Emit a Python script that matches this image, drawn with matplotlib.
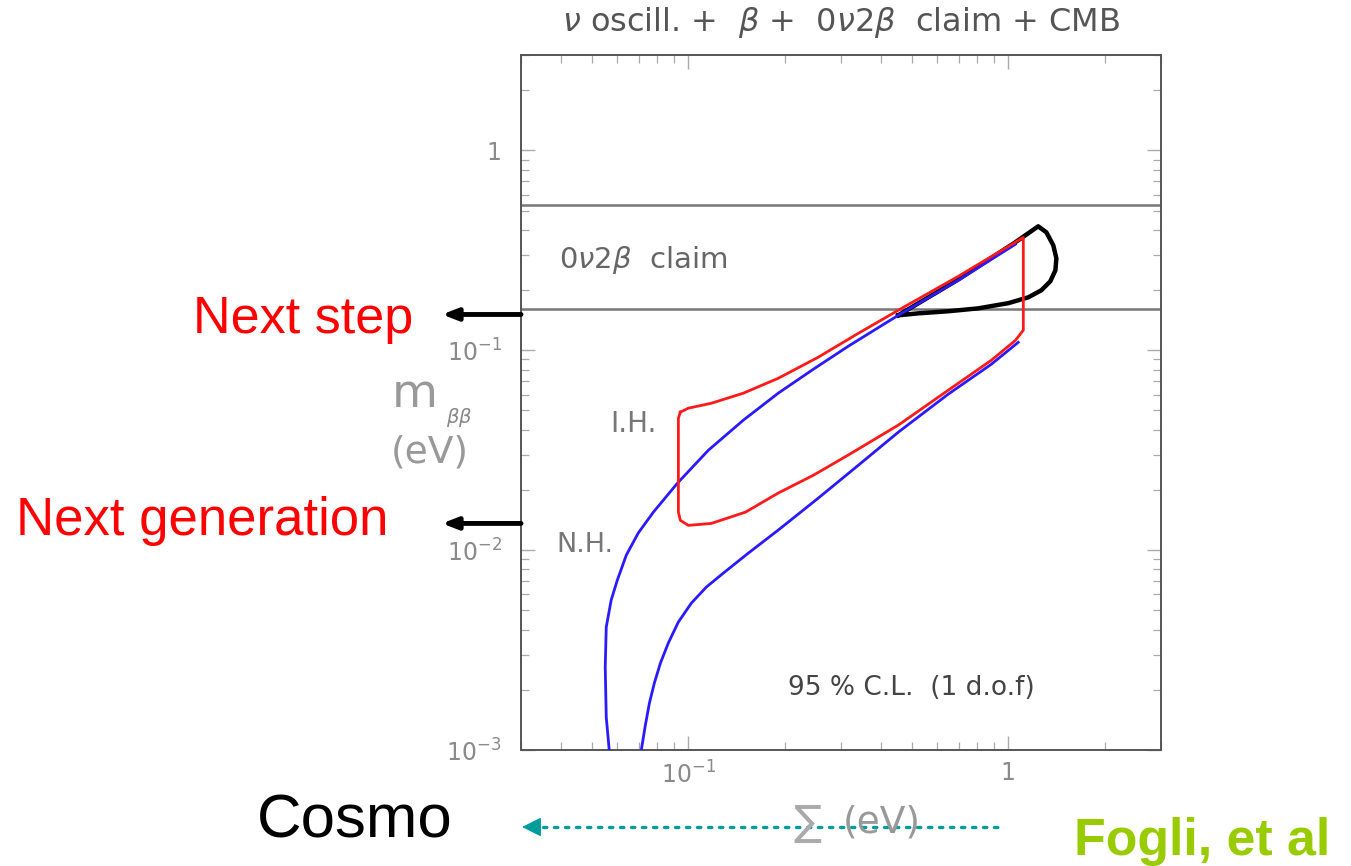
import matplotlib
matplotlib.use("Agg")
import matplotlib.pyplot as plt
from matplotlib.lines import Line2D
from matplotlib.patches import FancyArrowPatch
from matplotlib.ticker import FixedLocator, FixedFormatter, LogLocator, NullFormatter

# ---------------- data (Sigma in eV, m_bb in eV) ----------------
nh_upper_sigma = [0.0566, 0.0554, 0.0550, 0.0554, 0.0574, 0.0600, 0.0640, 0.0698, 0.0778,
                  0.0924, 0.1155, 0.1486, 0.191, 0.246, 0.316, 0.453, 0.698, 1.052]
nh_upper_m = [0.001, 0.00146, 0.0026, 0.00412, 0.00562, 0.00708, 0.00944, 0.0122, 0.0155,
              0.0216, 0.0316, 0.0447, 0.0610, 0.0804, 0.1047, 0.1496, 0.224, 0.339]

nh_lower_sigma = [0.0713, 0.0734, 0.0756, 0.0783, 0.0818, 0.0866, 0.0931, 0.1022, 0.1138,
                  0.1286, 0.154, 0.191, 0.2547, 0.340, 0.453, 0.649, 0.885, 1.074]
nh_lower_m = [0.001, 0.00133, 0.00172, 0.00216, 0.00272, 0.00343, 0.00437, 0.00543, 0.00653,
              0.00767, 0.00966, 0.0126, 0.0182, 0.0266, 0.0389, 0.0603, 0.0851, 0.1096]

ih_sigma = [0.0944, 0.100, 0.118, 0.1486, 0.191, 0.2547, 0.340, 0.453, 0.698, 1.114,
            1.114, 1.052, 0.885, 0.649, 0.453, 0.316, 0.246, 0.191, 0.151, 0.118, 0.100,
            0.0944, 0.0931, 0.0931, 0.0944]
ih_m = [0.0490, 0.0513, 0.0543, 0.0610, 0.0724, 0.0923, 0.1216, 0.1585, 0.2344, 0.367,
        0.126, 0.112, 0.0891, 0.0631, 0.0422, 0.0299, 0.0237, 0.0193, 0.0155, 0.0136, 0.0133,
        0.0141, 0.0155, 0.0457, 0.0490]

cmb_sigma = [0.453, 0.698, 1.052, 1.155, 1.24, 1.315, 1.382, 1.413, 1.403, 1.352, 1.268,
             1.155, 1.0, 0.805, 0.649, 0.524, 0.453]
cmb_m = [0.1496, 0.226, 0.347, 0.385, 0.417, 0.389, 0.335, 0.288, 0.251, 0.221, 0.1995,
         0.184, 0.172, 0.162, 0.1567, 0.153, 0.1496]

claim_band = [0.160, 0.531]

xticks = [0.1, 1.0]
xticklabels = [r"$10^{-1}$", "1"]
yticks = [1e-3, 1e-2, 1e-1, 1.0]
yticklabels = [r"$10^{-3}$", r"$10^{-2}$", r"$10^{-1}$", "1"]

arrow_levels = [0.151, 0.0136]   # m_bb levels of the "Next step" / "Next generation" arrows

# ---------------- figure ----------------
W, H = 1351, 866
fig = plt.figure(figsize=(W / 100, H / 100), dpi=100)
fig.patch.set_facecolor("white")

def fx(px):
    return px / W

def fy(py):
    return 1 - py / H

ax = fig.add_axes([fx(521), fy(750), fx(1161) - fx(521), fy(55) - fy(750)])
ax.set_xscale("log")
ax.set_yscale("log")
ax.set_xlim(0.03, 3.0)
ax.set_ylim(1e-3, 3.0)

grey_txt = "#8a8a8a"
for sp in ax.spines.values():
    sp.set_color("#555555")
    sp.set_linewidth(1.4)

ax.xaxis.set_major_locator(FixedLocator(xticks))
ax.xaxis.set_major_formatter(FixedFormatter(xticklabels))
ax.yaxis.set_major_locator(FixedLocator(yticks))
ax.yaxis.set_major_formatter(FixedFormatter(yticklabels))
ax.xaxis.set_minor_locator(LogLocator(base=10, subs=range(2, 10), numticks=20))
ax.yaxis.set_minor_locator(LogLocator(base=10, subs=range(2, 10), numticks=20))
ax.xaxis.set_minor_formatter(NullFormatter())
ax.yaxis.set_minor_formatter(NullFormatter())
ax.tick_params(which="both", direction="in", top=True, right=True, color="#aaaaaa")
ax.tick_params(which="major", length=10, width=1.0, labelsize=17, labelcolor=grey_txt)
ax.tick_params(which="minor", length=6, width=0.9)
ax.tick_params(axis="y", which="major", pad=14)
ax.tick_params(axis="x", which="major", pad=8)

# claim band lines
for yv in claim_band:
    ax.axhline(yv, color="#777777", lw=1.8, zorder=2)

# contours
ax.plot(nh_upper_sigma, nh_upper_m, color="#2a1aff", lw=2.0, zorder=3)
ax.plot(nh_lower_sigma, nh_lower_m, color="#2a1aff", lw=2.0, zorder=3)
ax.plot(ih_sigma, ih_m, color="#ff1a1a", lw=2.0, zorder=4)
ax.plot(cmb_sigma, cmb_m, color="black", lw=3.2, zorder=2.5, solid_joinstyle="round")

# in-plot labels
ax.text(0.0393, 0.282, r"0$\nu$2$\beta$  claim", fontsize=21, color="#666666", va="center")
ax.text(0.057, 0.0427, "I.H.", fontsize=20, color="#777777", va="center")
ax.text(0.0387, 0.0106, "N.H.", fontsize=19.5, color="#777777", va="center")
ax.text(0.2054, 0.00204, "95 % C.L.  (1 d.o.f)", fontsize=19, color="#444444", va="center")

# title
fig.text(fx(841), fy(22), r"$\nu$ oscill. +  $\beta$ +  0$\nu$2$\beta$  claim + CMB",
         fontsize=23, color="#555555", ha="center", va="center")

# axis labels
fig.text(fx(392), fy(407), "m", fontsize=34, color="#999999", ha="left", va="baseline")
fig.text(fx(446), fy(423), r"$\beta\beta$", fontsize=14, color="#888888", ha="left", va="baseline")
fig.text(fx(430), fy(452), "(eV)", fontsize=27, color="#999999", ha="center", va="center")
fig.text(fx(808), fy(823), "\u2211", fontsize=30, color="#aaaaaa", ha="center", va="center")
fig.text(fx(882), fy(823), "(eV)", fontsize=27, color="#999999", ha="center", va="center")

# annotation arrows + texts
for lvl in arrow_levels:
    ax.annotate("", xy=(fx(442), lvl), xycoords=("figure fraction", "data"),
                xytext=(0.0, lvl), textcoords=("axes fraction", "data"),
                arrowprops=dict(arrowstyle="-|>,head_length=0.9,head_width=0.35",
                                color="black", lw=3.5, shrinkA=0, shrinkB=0),
                annotation_clip=False)

fig.text(fx(413), fy(333), "Next step", fontsize=37.5, color="#ff0000",
         family="Liberation Sans", ha="right", va="baseline")
fig.text(fx(388), fy(535), "Next generation", fontsize=38, color="#ff0000",
         family="Liberation Sans", ha="right", va="baseline")
fig.text(fx(257), fy(838), "Cosmo", fontsize=44.5, color="black",
         family="Liberation Sans", ha="left", va="baseline")
fig.text(fx(1330), fy(855), "Fogli, et al", fontsize=37.4, color="#99cc00",
         family="Liberation Sans", fontweight="bold", ha="right", va="baseline")

# teal dotted arrow
teal = "#009c9c"
fig.add_artist(Line2D([fx(532), fx(1003)], [fy(827), fy(827)], transform=fig.transFigure,
                      color=teal, lw=2.4, linestyle=(0, (1, 2.3)), dash_capstyle="round"))
fig.add_artist(FancyArrowPatch((fx(534), fy(827)), (fx(522), fy(827)), transform=fig.transFigure,
                               arrowstyle="-|>,head_length=10,head_width=5", color=teal, lw=1,
                               mutation_scale=1.2, shrinkA=0, shrinkB=0))

fig.savefig("out.png", dpi=100)
